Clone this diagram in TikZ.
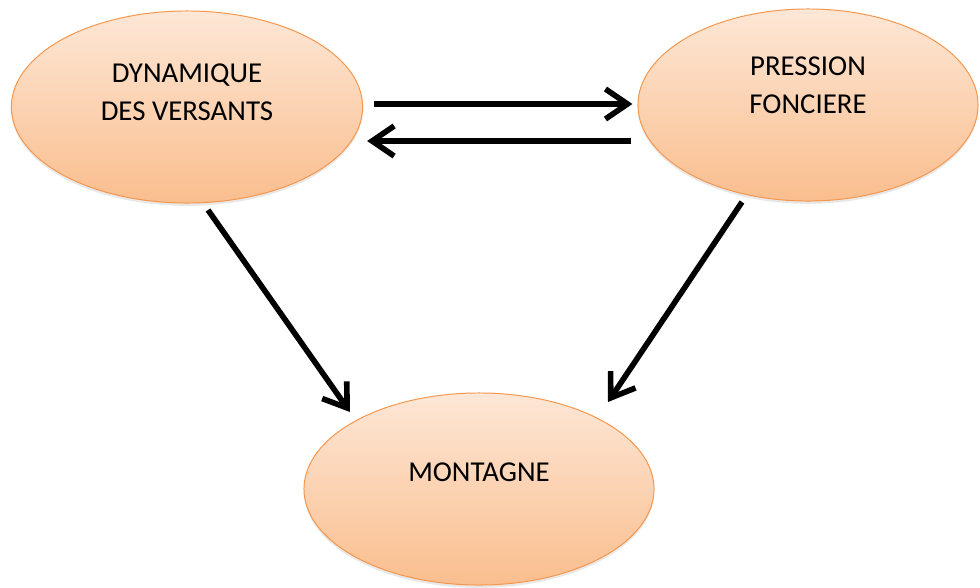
\documentclass[tikz,border=0pt]{standalone}
\usepackage{fontspec}
\setmainfont{Carlito}
\usetikzlibrary{arrows.meta,shapes.geometric,calc,shadows}

\definecolor{peachtop}{RGB}{253,231,214}
\definecolor{peachbot}{RGB}{250,190,142}
\definecolor{peachline}{RGB}{245,150,75}

\begin{document}
\begin{tikzpicture}[->,>={Straight Barb[length=0.55cm,width=0.75cm]},
x=0.025cm,y=-0.025cm,line width=4pt]
\tikzstyle{zone}=[ellipse,draw=peachline,line width=0.7pt,top color=peachtop,bottom color=peachbot,
drop shadow={opacity=0.18,shadow xshift=0pt,shadow yshift=-2pt},
minimum height=4.8cm,inner sep=0pt,align=center,text=black,
font=\fontsize{20.5}{27}\selectfont]

\useasboundingbox (0,0) rectangle (980,587);

\node[zone,minimum width=8.78cm,text height=1.43cm,text depth=0.78cm] (dyn) at (187,107) {DYNAMIQUE\\DES VERSANTS};
\node[zone,minimum width=8.5cm,text height=1.43cm,text depth=1.03cm]  (pres) at (808,105) {PRESSION\\FONCIERE};
\node[zone,minimum width=8.75cm,text height=0.47cm,text depth=0.83cm] (mont) at (479,489) {MONTAGNE};

\path ($(dyn.east)+(11,-3)$)   edge ($(pres.west)+(-5,-1)$)
($(pres.west)+(-6,36)$)        edge ($(dyn.east)+(4,34)$)
($(dyn.center)+(21,103)$)      edge ($(mont.center)+(-129,-77)$)
($(pres.center)+(-66,97)$)     edge ($(mont.center)+(129,-87)$);
\end{tikzpicture}
\end{document}
